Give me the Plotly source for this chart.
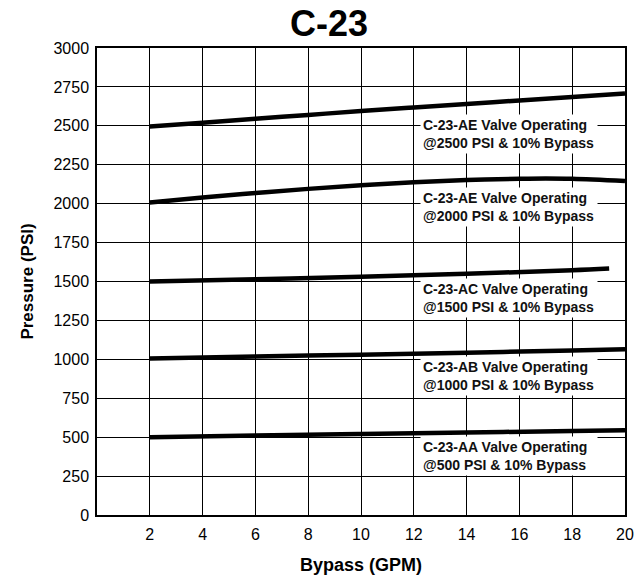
import plotly.graph_objects as go

# Data
x_2500 = [2, 4, 6, 8, 10, 12, 14, 16, 18, 20]
y_2500 = [2495, 2520, 2545, 2570, 2595, 2618, 2640, 2663, 2685, 2708]

x_2000 = [2, 4, 6, 8, 10, 12, 14, 16, 17, 18, 20]
y_2000 = [2008, 2040, 2068, 2095, 2118, 2138, 2152, 2160, 2162, 2160, 2145]

x_1500 = [2, 6, 10, 14, 18, 19.4]
y_1500 = [1500, 1515, 1530, 1550, 1572, 1583]

x_1000 = [2, 6, 10, 14, 18, 20]
y_1000 = [1005, 1018, 1030, 1043, 1057, 1065]

x_500 = [2, 6, 10, 14, 18, 20]
y_500 = [500, 510, 520, 530, 540, 545]

labels = [
    "C-23-AE Valve Operating<br>@2500 PSI & 10% Bypass",
    "C-23-AE Valve Operating<br>@2000 PSI & 10% Bypass",
    "C-23-AC Valve Operating<br>@1500 PSI & 10% Bypass",
    "C-23-AB Valve Operating<br>@1000 PSI & 10% Bypass",
    "C-23-AA Valve Operating<br>@500 PSI & 10% Bypass",
]
label_y = [2447, 1977, 1394, 893, 380]
label_x = 12.25

x_ticks = [2, 4, 6, 8, 10, 12, 14, 16, 18, 20]
y_ticks = [0, 250, 500, 750, 1000, 1250, 1500, 1750, 2000, 2250, 2500, 2750, 3000]

FONT = "Liberation Sans, Arial, sans-serif"

W, H = 639, 579
ML, MR, MT, MB = 97, 14, 48, 64

fig = go.Figure()
for xs, ys in [(x_2500, y_2500), (x_2000, y_2000), (x_1500, y_1500),
               (x_1000, y_1000), (x_500, y_500)]:
    fig.add_trace(go.Scatter(x=xs, y=ys, mode="lines",
                             line=dict(color="black", width=4.5, shape="spline"),
                             showlegend=False, hoverinfo="skip"))

for txt, ly in zip(labels, label_y):
    fig.add_annotation(x=label_x, y=ly, xref="x", yref="y", text="<b>" + txt + "</b>",
                       showarrow=False, xanchor="left", yanchor="middle",
                       align="left", bgcolor="white", borderpad=2, width=172,
                       font=dict(family=FONT, size=14, color="#111"))

pw = W - ML - MR
ph = H - MT - MB
fig.add_annotation(x=(329 - ML) / pw, y=1 + (MT - 23) / ph, xref="paper", yref="paper",
                   text="<b>C-23</b>", showarrow=False, yanchor="middle", borderpad=0,
                   font=dict(family=FONT, size=36, color="black"))

fig.update_layout(
    width=W, height=H,
    margin=dict(l=ML, r=MR, t=MT, b=MB, autoexpand=False),
    paper_bgcolor="white", plot_bgcolor="white",
    font=dict(family=FONT, color="black"),
    xaxis=dict(range=[0, 20], tickvals=x_ticks, ticktext=[str(v) for v in x_ticks],
               automargin=False,
               showgrid=True, gridcolor="black", gridwidth=1.3,
               showline=True, linecolor="black", linewidth=1.5, mirror=True,
               zeroline=False, ticks="", ticklen=0, ticklabelstandoff=4,
               tickfont=dict(family=FONT, size=16, color="black"),
               title=dict(text="<b>Bypass (GPM)</b>", standoff=16,
                          font=dict(family=FONT, size=18, color="black"))),
    yaxis=dict(range=[0, 3000], tickvals=y_ticks, ticktext=[str(v) for v in y_ticks],
               automargin=False,
               showgrid=True, gridcolor="black", gridwidth=1.3,
               showline=True, linecolor="black", linewidth=1.5, mirror=True,
               zeroline=False, ticks="", ticklen=0, ticklabelstandoff=3,
               tickfont=dict(family=FONT, size=16, color="black"),
               title=dict(text="<b>Pressure (PSI)</b>", standoff=16,
                          font=dict(family=FONT, size=17, color="black"))),
)

fig.write_html("out.html", config={"displayModeBar": False},
               post_script="document.body.style.margin='0px';document.body.style.overflow='hidden';")
